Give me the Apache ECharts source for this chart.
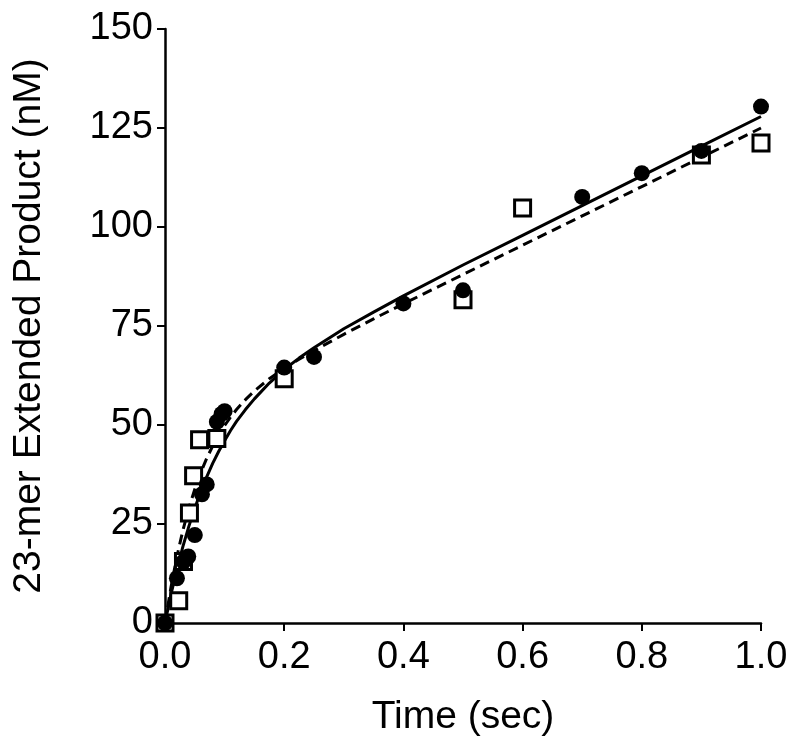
<!DOCTYPE html>
<html>
<head>
<meta charset="utf-8">
<script src="https://cdn.jsdelivr.net/npm/echarts@6/dist/echarts.min.js"></script>
<style>
html,body{margin:0;padding:0;background:#fff;}
#c{width:800px;height:751px;}
</style>
</head>
<body>
<div id="c"></div>
<script>
// Filled circles (data set 1)
const circleTime  = [0, 0.02, 0.031, 0.039, 0.05, 0.062, 0.07, 0.087, 0.095, 0.1, 0.2, 0.25, 0.4, 0.5, 0.7, 0.8, 0.9, 1.0];
const circleValue = [0, 11.3, 15.5, 16.8, 22.2, 32.5, 35.0, 50.8, 52.8, 53.5, 64.5, 67.2, 80.7, 84.0, 107.6, 113.6, 119.2, 130.4];
// Open squares (data set 2)
const squareTime  = [0, 0.023, 0.031, 0.041, 0.048, 0.058, 0.087, 0.2, 0.5, 0.6, 0.9, 1.0];
const squareValue = [0, 5.6, 15.5, 27.8, 37.2, 46.3, 46.6, 61.7, 81.6, 104.8, 118.2, 121.2];
// Solid fit curve
const solidTime  = [0, 0.01, 0.02, 0.03, 0.04, 0.05, 0.06, 0.07, 0.08, 0.09, 0.1, 0.11, 0.12, 0.135, 0.15, 0.175, 0.2, 0.225, 0.25, 0.3, 0.35, 0.4, 0.5, 0.6, 0.7, 0.8, 0.9, 1.0];
const solidValue = [0, 7.2, 13.5, 19.3, 24.4, 29.0, 33.2, 36.9, 40.3, 43.3, 46.0, 48.6, 50.9, 53.9, 56.6, 60.6, 64.0, 66.9, 69.5, 74.3, 78.5, 82.6, 90.4, 97.9, 105.4, 112.9, 120.4, 127.9];
// Dashed fit curve
const dashTime  = [0, 0.01, 0.02, 0.03, 0.04, 0.05, 0.06, 0.07, 0.08, 0.09, 0.1, 0.11, 0.12, 0.135, 0.15, 0.175, 0.2, 0.225, 0.25, 0.3, 0.35, 0.4, 0.5, 0.6, 0.7, 0.8, 0.9, 1.0];
const dashValue = [0, 9.0, 16.8, 23.4, 29.0, 33.8, 38.0, 41.6, 44.7, 47.5, 49.9, 52.0, 53.9, 56.4, 58.6, 61.7, 64.3, 66.6, 68.8, 72.9, 76.8, 80.6, 88.0, 95.4, 102.8, 110.2, 117.6, 125.0];
// Axis ticks
const xTicks = {min: 0, max: 1.0, interval: 0.2};
const yTicks = {min: 0, max: 150, interval: 25};

const pairs = (xs, ys) => xs.map((x, i) => [x, ys[i]]);
const FONT = '"Liberation Sans", Arial, Helvetica, sans-serif';

const chart = echarts.init(document.getElementById('c'), null, {renderer: 'canvas'});
chart.setOption({
  animation: false,
  backgroundColor: '#ffffff',
  grid: {left: 165, right: 39, top: 29, bottom: 128, containLabel: false},
  xAxis: {
    type: 'value', min: xTicks.min, max: xTicks.max, interval: xTicks.interval,
    name: 'Time (sec)', nameLocation: 'middle', nameGap: 75,
    nameTextStyle: {fontFamily: FONT, fontSize: 39, color: '#000'},
    axisLine: {show: true, onZero: false, lineStyle: {color: '#000', width: 2.5}},
    axisTick: {show: true, length: 8, lineStyle: {color: '#000', width: 2}},
    axisLabel: {fontFamily: FONT, fontSize: 38, color: '#000', margin: 16,
      formatter: v => v.toFixed(1)},
    splitLine: {show: false}
  },
  yAxis: {
    type: 'value', min: yTicks.min, max: yTicks.max, interval: yTicks.interval,
    name: '23-mer Extended Product (nM)', nameLocation: 'middle', nameGap: 116,
    nameTextStyle: {fontFamily: FONT, fontSize: 39, color: '#000'},
    axisLine: {show: true, lineStyle: {color: '#000', width: 2.5}},
    axisTick: {show: true, length: 8, lineStyle: {color: '#000', width: 2}},
    axisLabel: {fontFamily: FONT, fontSize: 38, color: '#000', margin: 12},
    splitLine: {show: false}
  },
  series: [
    {
      type: 'line', name: 'fit1', data: pairs(solidTime, solidValue),
      showSymbol: false, smooth: false, z: 1,
      lineStyle: {color: '#000', width: 3}
    },
    {
      type: 'line', name: 'fit2', data: pairs(dashTime, dashValue),
      showSymbol: false, smooth: false, z: 1,
      lineStyle: {color: '#000', width: 3, type: [10, 6]}
    },
    {
      type: 'scatter', name: 'squares', data: pairs(squareTime, squareValue),
      symbol: 'rect', symbolSize: 16, z: 3,
      itemStyle: {color: '#fff', borderColor: '#000', borderWidth: 3, opacity: 1}
    },
    {
      type: 'scatter', name: 'circles', data: pairs(circleTime, circleValue),
      symbol: 'circle', symbolSize: 16, z: 4,
      itemStyle: {color: '#000', opacity: 1}
    }
  ]
});
</script>
</body>
</html>
